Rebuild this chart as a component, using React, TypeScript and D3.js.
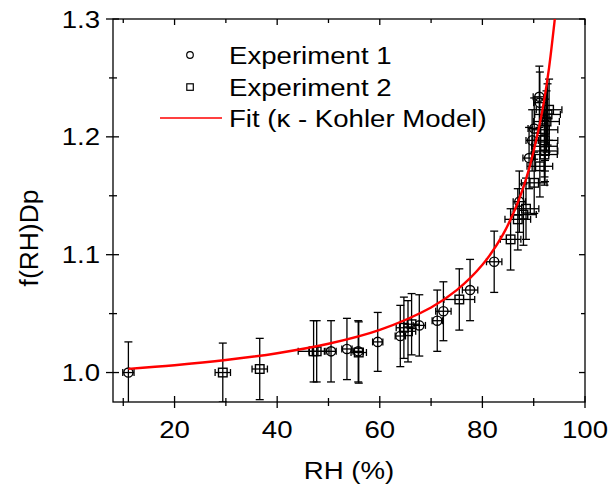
import React from "react";
import * as d3 from "d3";

// Experiment 1 (circles)
const exp1RH = [11.0, 50.5, 53.6, 55.8, 59.6, 64.0, 67.7, 71.2, 72.4, 77.6, 82.3, 87.2, 89.1, 89.7, 90.1, 91.1, 91.2];
const exp1F = [1.0, 1.018, 1.02, 1.018, 1.026, 1.031, 1.04, 1.044, 1.052, 1.07, 1.094, 1.145, 1.182, 1.197, 1.207, 1.234, 1.229];
const exp1RHErr = [1.1, 1.0, 1.0, 1.0, 1.0, 1.0, 1.2, 1.0, 1.5, 1.5, 1.5, 1.2, 1.2, 1.2, 1.2, 1.2, 1.2];
const exp1FErr = [0.026, 0.026, 0.026, 0.026, 0.025, 0.026, 0.026, 0.026, 0.025, 0.026, 0.026, 0.026, 0.026, 0.026, 0.026, 0.026, 0.026];

// Experiment 2 (squares)
const exp2RH = [29.4, 36.6, 47.1, 47.7, 55.9, 64.7, 65.5, 66.2, 75.5, 85.5, 86.9, 88.0, 88.5, 90.1, 91.2, 92.1, 92.2, 92.1, 92.2, 92.2, 92.5, 92.7, 93.0];
const exp2F = [1.0, 1.003, 1.018, 1.018, 1.017, 1.038, 1.035, 1.041, 1.062, 1.113, 1.13, 1.134, 1.139, 1.161, 1.175, 1.185, 1.188, 1.192, 1.197, 1.206, 1.213, 1.219, 1.223];
const exp2RHErr = [1.5, 1.5, 3.0, 1.5, 1.5, 1.5, 1.5, 1.5, 3.0, 2.0, 2.5, 2.5, 2.5, 2.5, 2.5, 2.5, 2.5, 2.5, 2.5, 2.5, 2.5, 2.5, 2.5];
const exp2FErr = [0.025, 0.026, 0.026, 0.026, 0.026, 0.026, 0.026, 0.026, 0.026, 0.026, 0.026, 0.026, 0.026, 0.026, 0.026, 0.026, 0.026, 0.026, 0.026, 0.026, 0.026, 0.026, 0.026];

// Fit curve (κ-Köhler)
const fitRH = [11, 20, 30, 40, 50, 60, 70, 75, 80, 84, 87, 89, 91, 92, 93, 94, 94.2];
const fitF = [1.0031, 1.0062, 1.0106, 1.0164, 1.0244, 1.0362, 1.0552, 1.0699, 1.0914, 1.117, 1.1454, 1.1713, 1.2072, 1.2301, 1.2588, 1.2955, 1.3036];

const xMajor = [20, 40, 60, 80, 100];
const xMinor = [10, 30, 50, 70, 90];
const yMajor = [1.0, 1.1, 1.2, 1.3];
const yMinor = [1.05, 1.15, 1.25];

const legendLabels = ["Experiment 1", "Experiment 2", "Fit (\u03BA - Kohler Model)"];

const FONT = "'Liberation Sans', Arial, sans-serif";

export default function App() {
  const left = 113, right = 585, top = 19, bottom = 402;
  const x = d3.scaleLinear().domain([8, 100]).range([left, right]);
  const y = d3.scaleLinear().domain([0.975, 1.3]).range([bottom, top]);

  const line = d3
    .line<number>()
    .x((_, i) => x(fitRH[i]))
    .y((d) => y(d))
    .curve(d3.curveCatmullRom);

  const errBars = (rh: number[], f: number[], rhe: number[], fe: number[], key: string) =>
    rh.map((r, i) => {
      const cx = x(r), cy = y(f[i]);
      const y1 = y(f[i] + fe[i]), y2 = y(f[i] - fe[i]);
      const x1 = x(r - rhe[i]), x2 = x(r + rhe[i]);
      return (
        <g key={key + i} stroke="#000" strokeWidth={1.3} fill="none">
          <line x1={cx} x2={cx} y1={y1} y2={y2} />
          <line x1={cx - 4} x2={cx + 4} y1={y1} y2={y1} />
          <line x1={cx - 4} x2={cx + 4} y1={y2} y2={y2} />
          <line x1={x1} x2={x2} y1={cy} y2={cy} />
          <line x1={x1} x2={x1} y1={cy - 3.5} y2={cy + 3.5} />
          <line x1={x2} x2={x2} y1={cy - 3.5} y2={cy + 3.5} />
        </g>
      );
    });

  const FS = 24;
  const SX = 1.15;
  const T = (props: { x: number; y: number; anchor?: string; children: React.ReactNode; dy?: string }) => (
    <text
      transform={`translate(${props.x},${props.y}) scale(${SX},1)`}
      dy={props.dy}
      textAnchor={props.anchor || "start"}
      fontSize={FS}
    >
      {props.children}
    </text>
  );

  return (
    <svg width={609} height={490} style={{ position: "absolute", left: 0, top: 0, background: "#fff" }} fontFamily={FONT}>
      <defs>
        <clipPath id="plotClip">
          <rect x={left} y={top} width={right - left} height={bottom - top} />
        </clipPath>
      </defs>

      {/* frame */}
      <rect x={left} y={top} width={right - left} height={bottom - top} fill="none" stroke="#000" strokeWidth={1.3} />

      {/* x ticks */}
      {xMajor.map((t) => (
        <g key={"xM" + t}>
          <line x1={x(t)} x2={x(t)} y1={bottom - 6} y2={bottom + 6} stroke="#000" strokeWidth={1.3} />
          <line x1={x(t)} x2={x(t)} y1={top} y2={top + 6} stroke="#000" strokeWidth={1.3} />
          <T x={x(t)} y={438} anchor="middle">{t}</T>
        </g>
      ))}
      {xMinor.map((t) => (
        <g key={"xm" + t}>
          <line x1={x(t)} x2={x(t)} y1={bottom - 4} y2={bottom + 4} stroke="#000" strokeWidth={1.3} />
          <line x1={x(t)} x2={x(t)} y1={top} y2={top + 4} stroke="#000" strokeWidth={1.3} />
        </g>
      ))}
      {/* y ticks */}
      {yMajor.map((t) => (
        <g key={"yM" + t}>
          <line x1={left - 7} x2={left + 6} y1={y(t)} y2={y(t)} stroke="#000" strokeWidth={1.3} />
          <line x1={right - 6} x2={right} y1={y(t)} y2={y(t)} stroke="#000" strokeWidth={1.3} />
          <T x={100} y={y(t)} dy="0.36em" anchor="end">{t.toFixed(1)}</T>
        </g>
      ))}
      {yMinor.map((t) => (
        <g key={"ym" + t}>
          <line x1={left - 4} x2={left + 4} y1={y(t)} y2={y(t)} stroke="#000" strokeWidth={1.3} />
          <line x1={right - 4} x2={right} y1={y(t)} y2={y(t)} stroke="#000" strokeWidth={1.3} />
        </g>
      ))}

      {/* axis labels */}
      <T x={349} y={479} anchor="middle">RH (%)</T>
      <text transform={`translate(38,238) rotate(-90) scale(1.1,1.1)`} textAnchor="middle" fontSize={FS}>f(RH)Dp</text>

      <g clipPath="url(#plotClip)">
        {errBars(exp1RH, exp1F, exp1RHErr, exp1FErr, "e1")}
        {errBars(exp2RH, exp2F, exp2RHErr, exp2FErr, "e2")}
        {exp1RH.map((r, i) => (
          <circle key={"c" + i} cx={x(r)} cy={y(exp1F[i])} r={4.6} fill="none" stroke="#000" strokeWidth={1.4} />
        ))}
        {exp2RH.map((r, i) => (
          <rect key={"s" + i} x={x(r) - 4.3} y={y(exp2F[i]) - 4.3} width={8.6} height={8.6} fill="none" stroke="#000" strokeWidth={1.4} />
        ))}
        <path d={line(fitF) || ""} fill="none" stroke="#ff0000" strokeWidth={2.4} />
      </g>

      {/* legend */}
      <g>
        <circle cx={190} cy={55} r={3.3} fill="none" stroke="#000" strokeWidth={1.2} />
        <rect x={186.8} y={83.8} width={6.5} height={6.5} fill="none" stroke="#000" strokeWidth={1.2} />
        <line x1={160} x2={222} y1={118} y2={118} stroke="#ff0000" strokeWidth={1.6} />
        {legendLabels.map((l, i) => (
          <T key={l} x={229} y={[55, 87, 118][i]} dy="0.36em">{l}</T>
        ))}
      </g>
    </svg>
  );
}
